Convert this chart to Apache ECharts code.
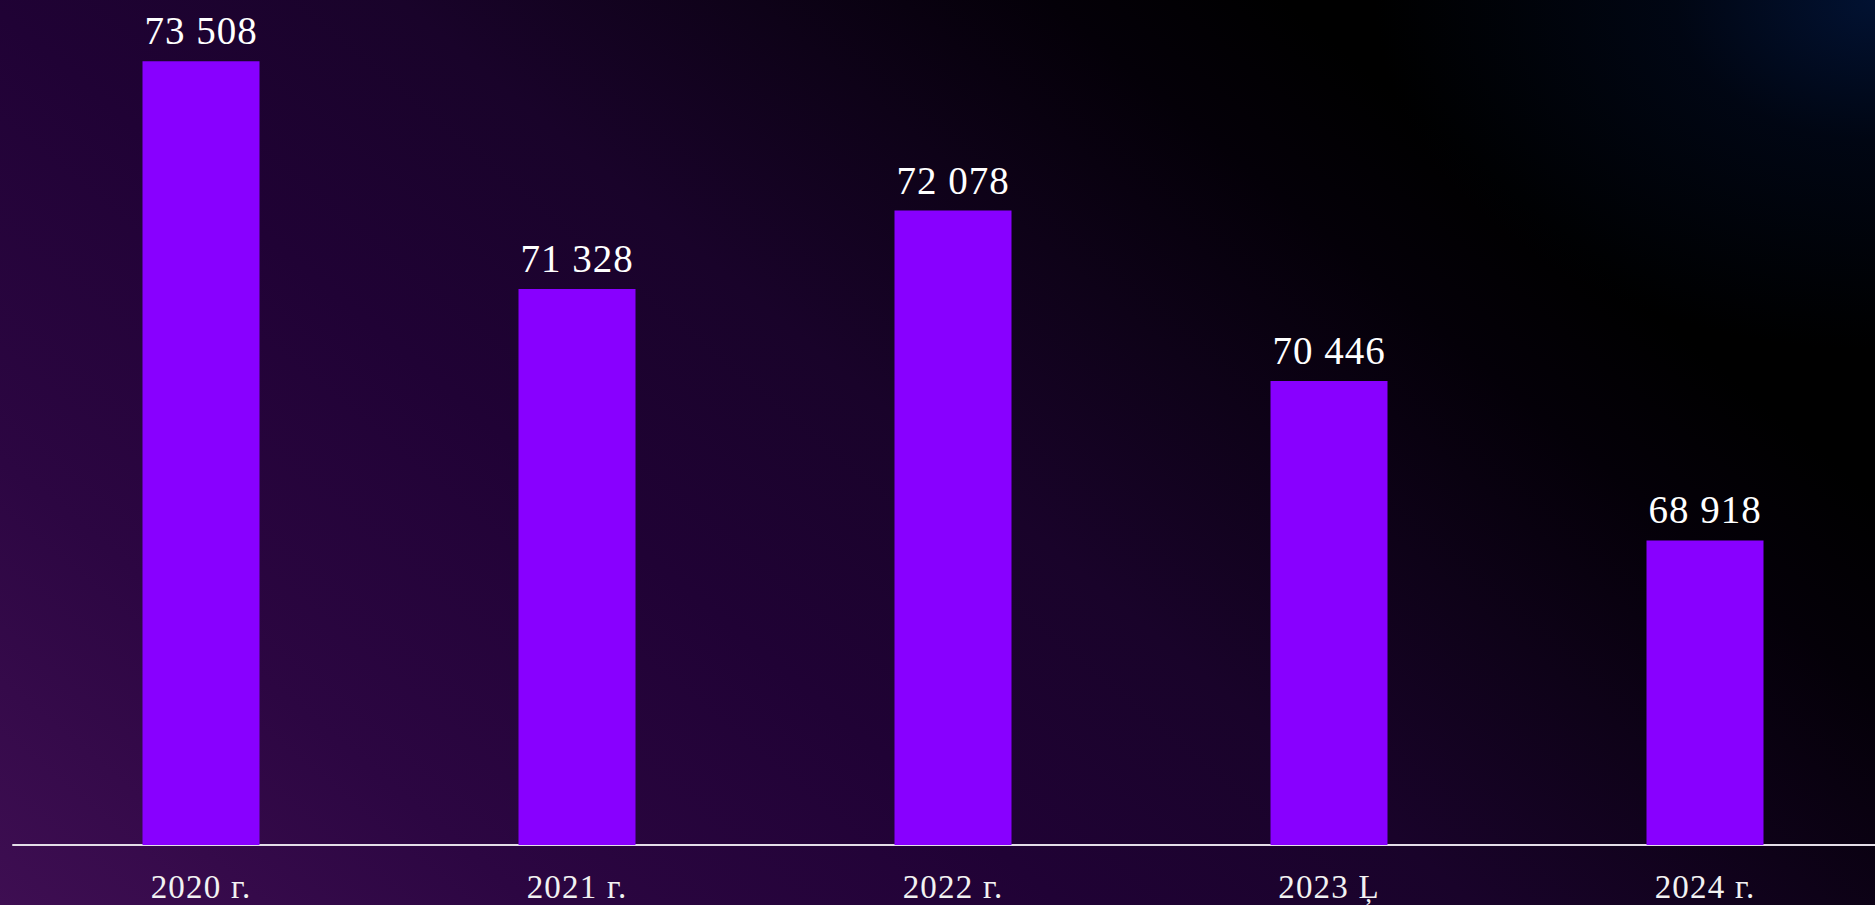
<!DOCTYPE html>
<html>
<head>
<meta charset="utf-8">
<script src="https://cdn.jsdelivr.net/npm/echarts@6.0.0/dist/echarts.min.js"></script>
<style>
  html, body { margin: 0; padding: 0; width: 1875px; height: 905px; overflow: hidden; background: #000; }
  #chart {
    width: 1875px; height: 905px;
    background:
      radial-gradient(ellipse 500px 350px at 100% 0%, rgba(2,18,50,1) 0%, rgba(1,10,32,0.6) 40%, rgba(0,0,0,0) 100%),
      linear-gradient(40deg, #3e0e52 0%, #2c0642 18%, #200235 36%, #19032a 50%, #0e0218 62%, #040008 72%, #000000 80%, #000000 100%);
  }
  #chart svg text { letter-spacing: 1px; }
  #chart svg text.axl { letter-spacing: 1.2px; }
</style>
</head>
<body>
<div id="chart"></div>
<script>
const categories = ['2020 г.', '2021 г.', '2022 г.', '2023 Ļ', '2024 г.'];
const values = [73508, 71328, 72078, 70446, 68918];
const yMin = 66000;
const yMax = 74000;

function fmt(v) {
  return String(v).replace(/\B(?=(\d{3})+(?!\d))/g, ' ');
}

const chart = echarts.init(document.getElementById('chart'), null, { renderer: 'svg' });
chart.setOption({
  backgroundColor: 'transparent',
  animation: false,
  grid: { left: 13, right: -18, top: 10, bottom: 60, containLabel: false, outerBoundsMode: 'none' },
  xAxis: {
    type: 'category',
    data: categories,
    axisLine: { show: true, lineStyle: { color: '#e4dee8', width: 2 } },
    axisTick: { show: false },
    axisLabel: {
      color: '#f2f2f2',
      fontFamily: '"Liberation Serif", "Times New Roman", serif',
      fontSize: 33,
      margin: 25
    },
    splitLine: { show: false }
  },
  yAxis: {
    type: 'value',
    min: yMin,
    max: yMax,
    show: false,
    splitLine: { show: false }
  },
  series: [{
    type: 'bar',
    data: values,
    barWidth: 117,
    itemStyle: { color: '#8800ff' },
    label: {
      show: true,
      position: 'top',
      distance: 11,
      color: '#ffffff',
      fontFamily: '"Liberation Serif", "Times New Roman", serif',
      fontSize: 39,
      formatter: p => fmt(p.value)
    }
  }]
});
document.querySelectorAll('#chart svg text').forEach(t => {
  if (/г\.|Ļ/.test(t.textContent)) t.classList.add('axl');
});
</script>
</body>
</html>
